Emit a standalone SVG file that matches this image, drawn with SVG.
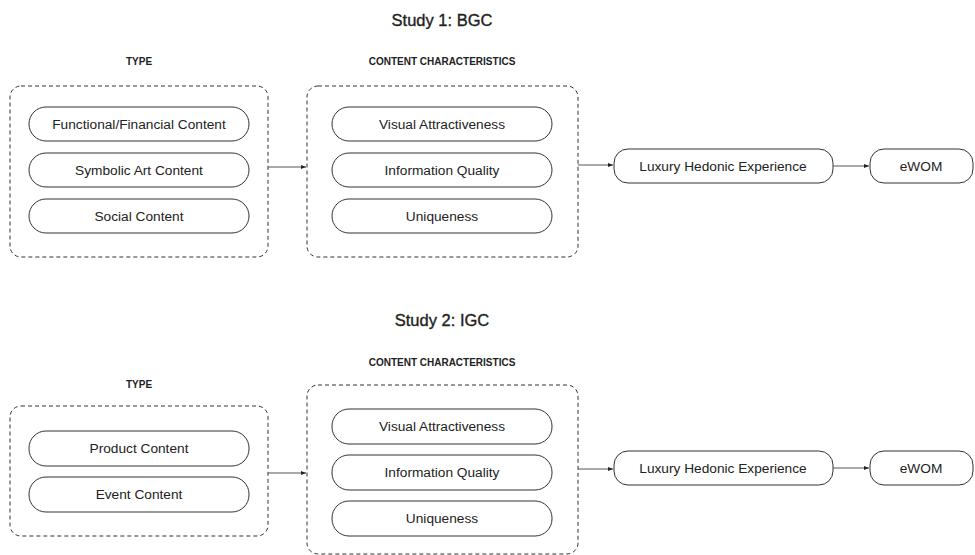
<svg xmlns="http://www.w3.org/2000/svg" width="975" height="555" viewBox="0 0 975 555">
<style>
text{font-family:"Liberation Sans",Arial,sans-serif;fill:#222}
.title{font-size:16.5px;text-anchor:middle;stroke:#222;stroke-width:0.35}
.lab{font-size:10px;font-weight:bold;text-anchor:middle}
.pt{font-size:13.7px;text-anchor:middle}
.grp{fill:none;stroke:#333;stroke-width:1;stroke-dasharray:4 3}
.pill{fill:#fff;stroke:#333;stroke-width:1}
.conn{stroke:#555;stroke-width:1;fill:none;marker-end:url(#ah)}
</style>
<defs>
<marker id="ah" viewBox="0 0 10 10" refX="10" refY="5" markerWidth="5" markerHeight="5" orient="auto" markerUnits="userSpaceOnUse"><path d="M0,1 L10,5 L0,9 z" fill="#222"/></marker>
</defs>
<rect width="975" height="555" fill="#fff"/>
<text class="title" x="442" y="26">Study 1: BGC</text>
<text class="title" x="442" y="326">Study 2: IGC</text>

<g id="s1-type">
<text class="lab" x="139" y="65">TYPE</text>
<rect class="grp" x="10" y="86" width="258" height="171" rx="11"/>
<g id="s1-func"><rect class="pill" x="29" y="107" width="220" height="34" rx="17"/><text class="pt" x="139" y="129">Functional/Financial Content</text></g>
<g id="s1-sym"><rect class="pill" x="29" y="153" width="220" height="34" rx="17"/><text class="pt" x="139" y="175">Symbolic Art Content</text></g>
<g id="s1-soc"><rect class="pill" x="29" y="199" width="220" height="34" rx="17"/><text class="pt" x="139" y="221">Social Content</text></g>
</g>
<g id="s1-cc">
<text class="lab" x="442" y="65">CONTENT CHARACTERISTICS</text>
<rect class="grp" x="307" y="86" width="271" height="171" rx="11"/>
<g id="s1-va"><rect class="pill" x="332" y="107" width="220" height="34" rx="17"/><text class="pt" x="442" y="129">Visual Attractiveness</text></g>
<g id="s1-iq"><rect class="pill" x="332" y="153" width="220" height="34" rx="17"/><text class="pt" x="442" y="175">Information Quality</text></g>
<g id="s1-un"><rect class="pill" x="332" y="199" width="220" height="34" rx="17"/><text class="pt" x="442" y="221">Uniqueness</text></g>
</g>
<g id="s1-lhe"><rect class="pill" x="614" y="149" width="219" height="34" rx="14"/><text class="pt" x="723" y="171">Luxury Hedonic Experience</text></g>
<g id="s1-ewom"><rect class="pill" x="870" y="149" width="103" height="34" rx="14"/><text class="pt" x="921" y="171">eWOM</text></g>

<g id="s2-type">
<text class="lab" x="139" y="388">TYPE</text>
<rect class="grp" x="10" y="406" width="258" height="130" rx="11"/>
<g id="s2-prod"><rect class="pill" x="29" y="431" width="220" height="35" rx="17"/><text class="pt" x="139" y="453">Product Content</text></g>
<g id="s2-evt"><rect class="pill" x="29" y="477" width="220" height="35" rx="17"/><text class="pt" x="139" y="499">Event Content</text></g>
</g>
<g id="s2-cc">
<text class="lab" x="442" y="366">CONTENT CHARACTERISTICS</text>
<rect class="grp" x="307" y="385" width="271" height="169" rx="11"/>
<g id="s2-va"><rect class="pill" x="332" y="409" width="220" height="35" rx="17"/><text class="pt" x="442" y="431">Visual Attractiveness</text></g>
<g id="s2-iq"><rect class="pill" x="332" y="455" width="220" height="35" rx="17"/><text class="pt" x="442" y="477">Information Quality</text></g>
<g id="s2-un"><rect class="pill" x="332" y="501" width="220" height="35" rx="17"/><text class="pt" x="442" y="523">Uniqueness</text></g>
</g>
<g id="s2-lhe"><rect class="pill" x="614" y="451" width="219" height="34" rx="14"/><text class="pt" x="723" y="473">Luxury Hedonic Experience</text></g>
<g id="s2-ewom"><rect class="pill" x="870" y="451" width="103" height="34" rx="14"/><text class="pt" x="921" y="473">eWOM</text></g>

<g id="connectors">
<line class="conn" x1="268" y1="167" x2="306" y2="167"/>
<line class="conn" x1="578" y1="165" x2="613" y2="165"/>
<line class="conn" x1="833" y1="166" x2="869" y2="166"/>
<line class="conn" x1="268" y1="473" x2="306" y2="473"/>
<line class="conn" x1="578" y1="469" x2="613" y2="469"/>
<line class="conn" x1="833" y1="468" x2="869" y2="468"/>
</g>
</svg>
